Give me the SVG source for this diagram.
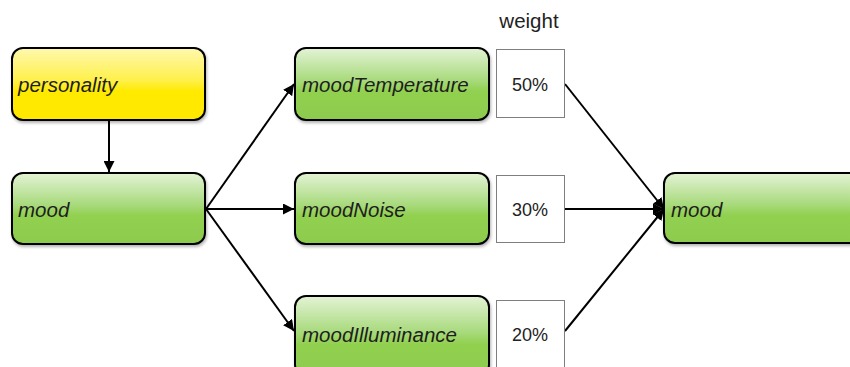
<svg xmlns="http://www.w3.org/2000/svg" width="850" height="367" viewBox="0 0 850 367">
  <defs>
    <linearGradient id="gGreen" x1="0" y1="0" x2="0" y2="1">
      <stop offset="0" stop-color="#e4f3d6"/>
      <stop offset="0.45" stop-color="#a8da7c"/>
      <stop offset="0.6" stop-color="#92d050"/>
      <stop offset="1" stop-color="#8ccb4e"/>
    </linearGradient>
    <linearGradient id="gYellow" x1="0" y1="0" x2="0" y2="1">
      <stop offset="0" stop-color="#fff8b0"/>
      <stop offset="0.45" stop-color="#fff04a"/>
      <stop offset="0.6" stop-color="#ffea00"/>
      <stop offset="1" stop-color="#ffe800"/>
    </linearGradient>
    <filter id="shadow" x="-10%" y="-10%" width="120%" height="130%">
      <feDropShadow dx="1" dy="2" stdDeviation="1.5" flood-color="#000" flood-opacity="0.3"/>
    </filter>
    <marker id="arrow" viewBox="0 0 11 11" refX="11" refY="5.5" markerWidth="11" markerHeight="11" markerUnits="userSpaceOnUse" orient="auto">
      <path d="M0,0 L11,5.5 L0,11 Z" fill="#000"/>
    </marker>
  </defs>
  <style>
    .node { stroke: #000; stroke-width: 2; filter: url(#shadow); }
    .green { fill: url(#gGreen); }
    .yellow { fill: url(#gYellow); }
    .label { font-family: "Liberation Sans", Arial, sans-serif; font-style: italic; font-size: 20.5px; fill: #1e1e1e; }
    .weight { fill: #fff; stroke: #7f7f7f; stroke-width: 1; }
    .pct { font-family: "Liberation Sans", Arial, sans-serif; font-size: 18px; fill: #222; text-anchor: middle; }
    .caption { font-family: "Liberation Sans", Arial, sans-serif; font-size: 20.5px; fill: #222; text-anchor: middle; }
    .edge { stroke: #000; stroke-width: 2; fill: none; marker-end: url(#arrow); }
  </style>
  <rect width="850" height="367" fill="#fff"/>

  <text x="529" y="28" class="caption">weight</text>

  <g id="connectors">
    <line class="edge" x1="109" y1="121" x2="109" y2="172"/>
    <line class="edge" x1="206" y1="209" x2="294" y2="84"/>
    <line class="edge" x1="206" y1="209" x2="294" y2="209"/>
    <line class="edge" x1="206" y1="209" x2="294" y2="331"/>
    <line class="edge" x1="565" y1="84" x2="664" y2="209"/>
    <line class="edge" x1="565" y1="209" x2="664" y2="209"/>
    <line class="edge" x1="565" y1="331" x2="664" y2="209"/>
  </g>

  <g id="personality">
    <rect class="node yellow" x="12" y="48" width="193" height="72" rx="11"/>
    <text class="label" x="18" y="92">personality</text>
  </g>
  <g id="mood-source">
    <rect class="node green" x="12" y="173" width="193" height="71" rx="11"/>
    <text class="label" x="18" y="217">mood</text>
  </g>

  <g id="moodTemperature">
    <rect class="node green" x="295" y="48" width="194" height="72" rx="11"/>
    <text class="label" x="302" y="92">moodTemperature</text>
  </g>
  <g id="weight-temperature">
    <rect class="weight" x="496.5" y="49.5" width="68" height="68"/>
    <text class="pct" x="530" y="91">50%</text>
  </g>

  <g id="moodNoise">
    <rect class="node green" x="295" y="173" width="194" height="71" rx="11"/>
    <text class="label" x="302" y="217">moodNoise</text>
  </g>
  <g id="weight-noise">
    <rect class="weight" x="496.5" y="175.5" width="68" height="67"/>
    <text class="pct" x="530" y="216">30%</text>
  </g>

  <g id="moodIlluminance">
    <rect class="node green" x="295" y="296" width="194" height="80" rx="11"/>
    <text class="label" x="302" y="342">moodIlluminance</text>
  </g>
  <g id="weight-illuminance">
    <rect class="weight" x="496.5" y="300.5" width="68" height="80"/>
    <text class="pct" x="530" y="341">20%</text>
  </g>

  <g id="mood-result">
    <rect class="node green" x="664" y="173" width="200" height="70" rx="11"/>
    <text class="label" x="671" y="217">mood</text>
  </g>
</svg>
